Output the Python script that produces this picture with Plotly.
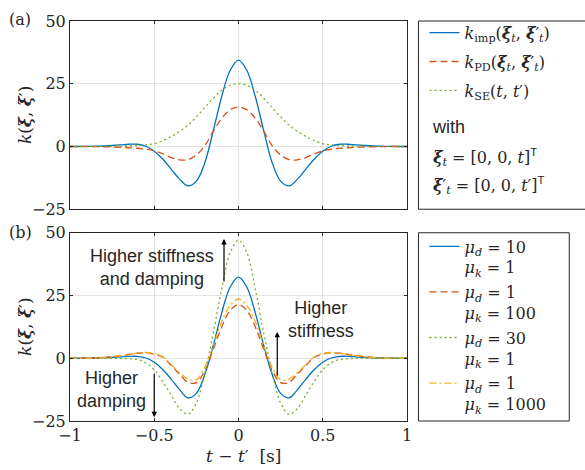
import plotly.graph_objects as go

# ---------------- data ----------------
t = [-1.0, -0.95, -0.9, -0.85, -0.8, -0.75, -0.7, -0.65, -0.6, -0.55, -0.5,
     -0.45, -0.4, -0.35, -0.3, -0.25, -0.2, -0.15, -0.1, -0.05, 0.0,
     0.05, 0.1, 0.15, 0.2, 0.25, 0.3, 0.35, 0.4, 0.45, 0.5,
     0.55, 0.6, 0.65, 0.7, 0.75, 0.8, 0.85, 0.9, 0.95, 1.0]

# panel (a)
k_imp = [0.0, 0.0, 0.05, 0.1, 0.2, 0.4, 0.65, 0.9, 0.9, 0.1, -1.9,
         -5.0, -9.0, -13.0, -15.7, -13.8, -6.5, 6.2, 19.8, 30.3, 34.4,
         30.3, 19.8, 6.2, -6.5, -13.8, -15.7, -13.0, -9.0, -5.0, -1.9,
         0.1, 0.9, 0.9, 0.65, 0.4, 0.2, 0.1, 0.05, 0.0, 0.0]
k_pd = [0.0, 0.0, 0.0, -0.05, -0.1, -0.2, -0.3, -0.5, -0.7, -1.1, -1.7,
        -2.9, -4.4, -5.3, -5.2, -3.4, 0.3, 6.0, 11.2, 14.6, 15.7,
        14.6, 11.2, 6.0, 0.3, -3.4, -5.2, -5.3, -4.4, -2.9, -1.7,
        -1.1, -0.7, -0.5, -0.3, -0.2, -0.1, -0.05, 0.0, 0.0, 0.0]
k_se = [0.0, 0.0, 0.0, 0.02, 0.05, 0.1, 0.15, 0.25, 0.4, 0.65, 1.1,
        2.3, 4.0, 6.0, 8.5, 11.8, 15.5, 19.2, 22.4, 24.4, 25.0,
        24.4, 22.4, 19.2, 15.5, 11.8, 8.5, 6.0, 4.0, 2.3, 1.1,
        0.65, 0.4, 0.25, 0.15, 0.1, 0.05, 0.02, 0.0, 0.0, 0.0]

# panel (b)
k_d10_k1 = [0.0, 0.0, 0.05, 0.1, 0.2, 0.35, 0.55, 0.75, 0.75, 0.1, -1.6,
            -4.5, -8.3, -12.5, -15.8, -14.0, -6.5, 5.0, 18.0, 28.3, 32.3,
            28.3, 18.0, 5.0, -6.5, -14.0, -15.8, -12.5, -8.3, -4.5, -1.6,
            0.1, 0.75, 0.75, 0.55, 0.35, 0.2, 0.1, 0.05, 0.0, 0.0]
k_d1_k100 = [0.0, 0.02, 0.05, 0.1, 0.3, 0.6, 1.0, 1.5, 2.0, 2.2, 1.7,
             0.4, -2.8, -6.3, -9.6, -9.7, -5.0, 3.5, 12.4, 19.0, 21.4,
             19.0, 12.4, 3.5, -5.0, -9.7, -9.6, -6.3, -2.8, 0.4, 1.7,
             2.2, 2.0, 1.5, 1.0, 0.6, 0.3, 0.1, 0.05, 0.02, 0.0]
k_d30_k1 = [0.0, 0.0, 0.0, 0.0, 0.0, 0.0, -0.05, -0.2, -0.5, -1.8, -4.6,
            -9.2, -14.6, -20.0, -22.3, -17.8, -6.0, 10.0, 27.5, 42.0, 47.0,
            42.0, 27.5, 10.0, -6.0, -17.8, -22.3, -20.0, -14.6, -9.2, -4.6,
            -1.8, -0.5, -0.2, -0.05, 0.0, 0.0, 0.0, 0.0, 0.0, 0.0]
k_d1_k1000 = [0.0, 0.02, 0.05, 0.1, 0.3, 0.6, 1.0, 1.5, 2.0, 2.3, 1.9,
              0.6, -2.5, -5.7, -8.3, -8.6, -3.5, 5.0, 14.5, 21.0, 23.6,
              21.0, 14.5, 5.0, -3.5, -8.6, -8.3, -5.7, -2.5, 0.6, 1.9,
              2.3, 2.0, 1.5, 1.0, 0.6, 0.3, 0.1, 0.05, 0.02, 0.0]

x_ticks = [-1, -0.5, 0, 0.5, 1]
x_ticktext = ["\u22121", "\u22120.5", "0", "0.5", "1"]
y_ticks = [-25, 0, 25, 50]
y_ticktext = ["\u221225", "0", "25", "50"]

# ---------------- styling ----------------
BLUE, ORANGE, GREEN, YELLOW = "#0072BD", "#D95319", "#77AC30", "#EDB120"
AX = "#262626"
GRID = "#e3e3e3"
SERIF = "'DejaVu Serif', 'Liberation Serif', serif"
SANS = "'Liberation Sans', Arial, sans-serif"
LW = 1.3
DASH = "7px,4px"
DOT = "2px,3px"
DASHDOT = "7px,3px,2px,3px"

XI = "<b><i>\u03be</i></b>"

fig = go.Figure()

top_series = [
    (k_imp, BLUE, "solid", f"<i>k</i><sub>imp</sub>({XI}<sub><i>t</i></sub>, {XI}\u2032<sub><i>t</i></sub>)"),
    (k_pd, ORANGE, DASH, f"<i>k</i><sub>PD</sub>({XI}<sub><i>t</i></sub>, {XI}\u2032<sub><i>t</i></sub>)"),
    (k_se, GREEN, DOT, "<i>k</i><sub>SE</sub>(<i>t</i>, <i>t</i>\u2032)"),
]
for i, (y, c, d, name) in enumerate(top_series):
    fig.add_trace(go.Scatter(x=t, y=y, mode="lines", name=name,
                             line=dict(color=c, width=LW, dash=d, shape="spline", smoothing=1.0),
                             xaxis="x", yaxis="y", legend="legend", legendgroup=f"a{i}"))

bot_series = [
    (k_d10_k1, BLUE, "solid", "10", "1"),
    (k_d1_k100, ORANGE, DASH, "1", "100"),
    (k_d30_k1, GREEN, DOT, "30", "1"),
    (k_d1_k1000, YELLOW, DASHDOT, "1", "1000"),
]
for i, (y, c, d, md, mk) in enumerate(bot_series):
    name = f"<i>\u03bc</i><sub><i>d</i></sub> = {md}<br><i>\u03bc</i><sub><i>k</i></sub> = {mk}"
    fig.add_trace(go.Scatter(x=t, y=y, mode="lines", name=name,
                             line=dict(color=c, width=LW, dash=d, shape="spline", smoothing=1.0),
                             xaxis="x2", yaxis="y2", legend="legend2", legendgroup=f"b{i}"))

axis_common = dict(showline=True, linecolor=AX, linewidth=1, mirror="ticks",
                   ticks="inside", ticklen=3, tickcolor=AX,
                   showgrid=True, gridcolor=GRID, gridwidth=1, zeroline=False,
                   tickfont=dict(family=SERIF, size=16, color=AX))

TOP_LO = (421 - 205) / 408
BOT_HI = (421 - 229) / 408

fig.update_layout(
    width=585, height=470,
    margin=dict(l=70, r=178, t=13, b=49),
    paper_bgcolor="white", plot_bgcolor="white",
    xaxis=dict(domain=[0, 1], anchor="y", range=[-1, 1], tickvals=x_ticks,
               ticktext=x_ticktext, showticklabels=False, **axis_common),
    yaxis=dict(domain=[TOP_LO, 1], anchor="x", range=[-25, 50], tickvals=y_ticks,
               ticktext=y_ticktext, **axis_common),
    xaxis2=dict(domain=[0, 1], anchor="y2", range=[-1, 1], tickvals=x_ticks,
                ticktext=x_ticktext, **axis_common),
    yaxis2=dict(domain=[0, BOT_HI], anchor="x2", range=[-25, 50], tickvals=y_ticks,
                ticktext=y_ticktext, **axis_common),
    legend=dict(x=1.052, y=1.013, xanchor="left", yanchor="top",
                bgcolor="rgba(0,0,0,0)", borderwidth=0, traceorder="grouped",
                tracegroupgap=5, font=dict(family=SERIF, size=16, color=AX)),
    legend2=dict(x=1.052, y=0.479, xanchor="left", yanchor="top",
                 bgcolor="rgba(0,0,0,0)", borderwidth=0, traceorder="grouped",
                 tracegroupgap=1, valign="top",
                 font=dict(family=SERIF, size=16, color=AX)),
    showlegend=True,
)

# legend boxes
fig.add_shape(type="rect", xref="paper", yref="paper", x0=1.034, x1=1.53,
              y0=TOP_LO, y1=1.0, line=dict(color=AX, width=1), fillcolor="rgba(0,0,0,0)")
fig.add_shape(type="rect", xref="paper", yref="paper", x0=1.034, x1=1.4815,
              y0=0.0, y1=BOT_HI, line=dict(color=AX, width=1), fillcolor="rgba(0,0,0,0)")

def px_x(px):
    return (px - 70) / 337

def px_y(py):
    return (421 - py) / 408

ann = []
# legend extras (panel a)
ann.append(dict(text="with", x=px_x(430), y=px_y(121), xanchor="left", yanchor="middle",
                font=dict(family=SANS, size=18, color=AX)))
ann.append(dict(text=f"{XI}<sub><i>t</i></sub> = [0, 0, <i>t</i>]<sup><span style='font-family:Liberation Sans'>T</span></sup>",
                x=px_x(431), y=px_y(152), xanchor="left", yanchor="middle",
                font=dict(family=SERIF, size=16, color=AX)))
ann.append(dict(text=f"{XI}\u2032<sub><i>t</i></sub> = [0, 0, <i>t</i>\u2032]<sup><span style='font-family:Liberation Sans'>T</span></sup>",
                x=px_x(431), y=px_y(181), xanchor="left", yanchor="middle",
                font=dict(family=SERIF, size=16, color=AX)))
# panel labels
ann.append(dict(text="(a)", x=px_x(20), y=px_y(11), xanchor="center", yanchor="middle",
                font=dict(family=SERIF, size=16, color=AX)))
ann.append(dict(text="(b)", x=px_x(20), y=px_y(229), xanchor="center", yanchor="middle",
                font=dict(family=SERIF, size=16, color=AX)))
# y titles
ytitle = f"<i>k</i>({XI}, {XI}\u2032)"
for cy in (109, 325):
    ann.append(dict(text=ytitle, x=px_x(25), y=px_y(cy), xanchor="center", yanchor="middle",
                    textangle=-90, font=dict(family=SERIF, size=17, color=AX)))
# x title
ann.append(dict(text="<i>t</i> \u2212 <i>t</i>\u2032  [s]", x=px_x(244), y=px_y(457),
                xanchor="center", yanchor="middle", font=dict(family=SERIF, size=17, color=AX)))
for a in ann:
    a.update(xref="paper", yref="paper", showarrow=False)

# bottom panel text annotations (data coords)
notes = [("Higher stiffness<br>and damping", -0.516, 36.0),
         ("Higher<br>damping", -0.754, -12.6),
         ("Higher<br>stiffness", 0.49, 15.6)]
for txt, xx, yy in notes:
    ann.append(dict(text=txt, x=xx, y=yy, xref="x2", yref="y2", showarrow=False,
                    xanchor="center", yanchor="middle", align="center",
                    font=dict(family=SANS, size=18, color=AX)))
# arrows: (x, y_tail, y_head)
arrows = [(-0.086, 30.0, 47.5), (-0.5, -5.6, -23.5), (0.23, -7.5, 10.5)]
for xx, y0, y1 in arrows:
    ann.append(dict(text="", x=xx, y=y1, ax=xx, ay=y0, xref="x2", yref="y2",
                    axref="x2", ayref="y2", showarrow=True, arrowhead=2,
                    arrowsize=0.9, arrowwidth=1.2, arrowcolor="black"))

fig.update_layout(annotations=ann)
fig.write_html("out.html")
